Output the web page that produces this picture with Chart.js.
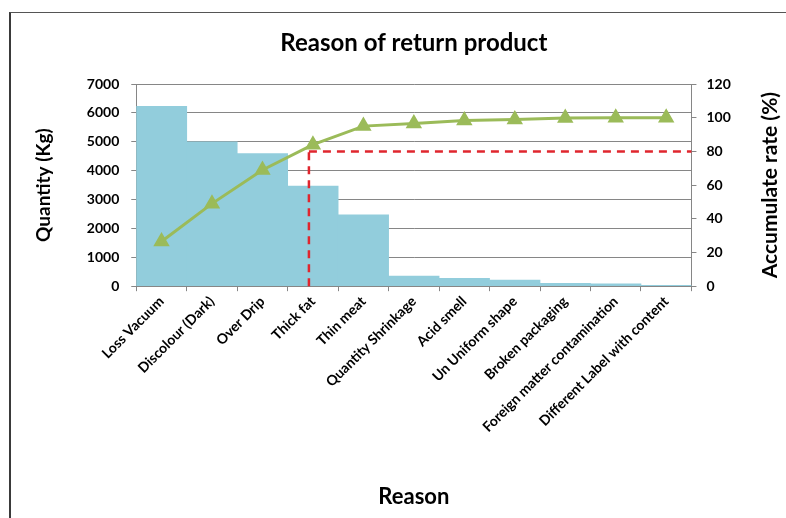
<!DOCTYPE html>
<html>
<head>
<meta charset="utf-8">
<title>Reason of return product</title>
<script src="https://cdn.jsdelivr.net/npm/chart.js@4.4.1/dist/chart.umd.min.js"></script>
<style>
  body { margin: 0; background: #fff; }
  #wrap { position: relative; width: 786px; height: 518px; overflow: hidden; }
  #frame {
    position: absolute; left: 9px; top: 12px; width: 800px; height: 520px;
    border-left: 2px solid #3a3a3a; border-top: 1px solid #555;
  }
  #paretoChart { position: absolute; left: 0; top: 0; }
</style>
</head>
<body>
<div id="wrap">
  <div id="frame"></div>
  <canvas id="paretoChart" width="786" height="518"></canvas>
</div>
<script>
// ---------- DATA ----------

var reasons = ["Loss Vacuum", "Discolour (Dark)", "Over Drip", "Thick fat", "Thin meat", "Quantity Shrinkage",
  "Acid smell", "Un Uniform shape", "Broken packaging", "Foreign matter contamination", "Different Label with content"];
var quantityKg = [6230, 5000, 4590, 3470, 2470, 350, 270, 210, 95, 85, 30];
var accumulatePct = [26.5, 49, 69, 84, 95, 96.5, 98.3, 99, 99.8, 100, 100];
var qtyTicks = [0, 1000, 2000, 3000, 4000, 5000, 6000, 7000];
var rateTicks = [0, 20, 40, 60, 80, 100, 120];

// pareto cut: 80% reached at "Thick fat"
var cutRate = 80;
var cutReason = "Thick fat";

var chartTitle = "Reason of return product";
var rightTitle = "Accumulate rate (%)";

var FONT = "Lato, 'Open Sans', sans-serif";

// red dashed 80% guide, drawn over the bars but under the line
var cutLinePlugin = {
  id: "cutLine",
  afterDatasetDraw: function(chart, args) {
    if (args.meta.type !== "bar") return;
    var x = chart.scales.x.getPixelForValue(reasons.indexOf(cutReason)) - 4;
    var y = chart.scales.y1.getPixelForValue(cutRate);
    var area = chart.chartArea;
    var ctx = chart.ctx;
    ctx.save();
    ctx.strokeStyle = "#E0262E";
    ctx.lineWidth = 2.5;
    ctx.setLineDash([8, 6]);
    ctx.beginPath();
    ctx.moveTo(x, area.bottom);
    ctx.lineTo(x, y);
    ctx.moveTo(x, y);
    ctx.lineTo(area.right, y);
    ctx.stroke();
    ctx.restore();
  }
};

// chart title centred over the plot, right axis title reading bottom-to-top
var titlesPlugin = {
  id: "titles",
  afterDraw: function(chart) {
    var area = chart.chartArea;
    var sc = chart.scales.y1;
    var ctx = chart.ctx;
    ctx.save();
    ctx.fillStyle = "#000";
    ctx.textAlign = "center";
    ctx.textBaseline = "middle";
    ctx.font = "bold 24px " + FONT;
    ctx.fillText(chartTitle, (area.left + area.right) / 2, 43);
    ctx.translate(sc.right - 16, (area.top + area.bottom) / 2);
    ctx.rotate(-Math.PI / 2);
    ctx.font = "bold 21px " + FONT;
    ctx.fillText(rightTitle, 0, 0);
    ctx.restore();
  }
};

function plainNumber(v) { return String(v); }

var ctx = document.getElementById("paretoChart").getContext("2d");
var paretoChart = new Chart(ctx, {
  data: {
    labels: reasons,
    datasets: [{
      type: "line",
      label: "Accumulate rate (%)",
      data: accumulatePct,
      yAxisID: "y1",
      borderColor: "#9BBB59",
      backgroundColor: "#9BBB59",
      borderWidth: 3,
      pointStyle: "triangle",
      pointRadius: 6.5,
      pointHoverRadius: 6.5,
      order: 0
    }, {
      type: "bar",
      label: "Quantity (Kg)",
      data: quantityKg,
      yAxisID: "y",
      backgroundColor: "#92CDDC",
      borderWidth: 0,
      barPercentage: 1,
      categoryPercentage: 1,
      order: 1
    }]
  },
  options: {
    responsive: false,
    animation: false,
    devicePixelRatio: 1,
    layout: { padding: 0 },
    plugins: {
      legend: { display: false },
      tooltip: { enabled: false },
      // empty title box only reserves the space; the text is drawn by titlesPlugin
      title: {
        display: true,
        text: "",
        font: { family: FONT, size: 10 },
        padding: { top: 72, bottom: 0 }
      }
    },
    scales: {
      x: {
        offset: true,
        grid: { offset: true, drawOnChartArea: false, drawTicks: true, tickLength: 5, color: "#868686" },
        border: { color: "#868686" },
        ticks: {
          color: "#000",
          font: { family: FONT, size: 14, weight: "bold" },
          minRotation: 45,
          maxRotation: 45,
          autoSkip: false,
          padding: 2
        },
        title: {
          display: true,
          text: "Reason",
          color: "#000",
          font: { family: FONT, size: 22, weight: "bold" },
          padding: { top: 46, bottom: 8 }
        }
      },
      y: {
        position: "left",
        min: 0,
        max: 7000,
        afterBuildTicks: function(axis) { axis.ticks = qtyTicks.map(function(v) { return { value: v }; }); },
        grid: { color: "#868686", tickLength: 5 },
        border: { color: "#868686" },
        ticks: {
          color: "#000",
          font: { family: FONT, size: 14, weight: "bold" },
          padding: 12,
          callback: plainNumber
        },
        title: {
          display: true,
          text: "Quantity (Kg)",
          color: "#000",
          font: { family: FONT, size: 19, weight: "bold" },
          padding: { top: 32, bottom: 20 }
        }
      },
      y1: {
        position: "right",
        min: 0,
        max: 120,
        afterBuildTicks: function(axis) { axis.ticks = rateTicks.map(function(v) { return { value: v }; }); },
        grid: { drawOnChartArea: false, color: "#868686", tickLength: 5 },
        border: { color: "#868686" },
        ticks: {
          color: "#000",
          font: { family: FONT, size: 14, weight: "bold" },
          padding: 10,
          callback: plainNumber
        },
        title: {
          display: true,
          text: "",
          font: { family: FONT, size: 21, weight: "bold" },
          padding: { top: 6, bottom: 14 }
        }
      }
    }
  },
  plugins: [cutLinePlugin, titlesPlugin]
});
</script>
</body>
</html>
